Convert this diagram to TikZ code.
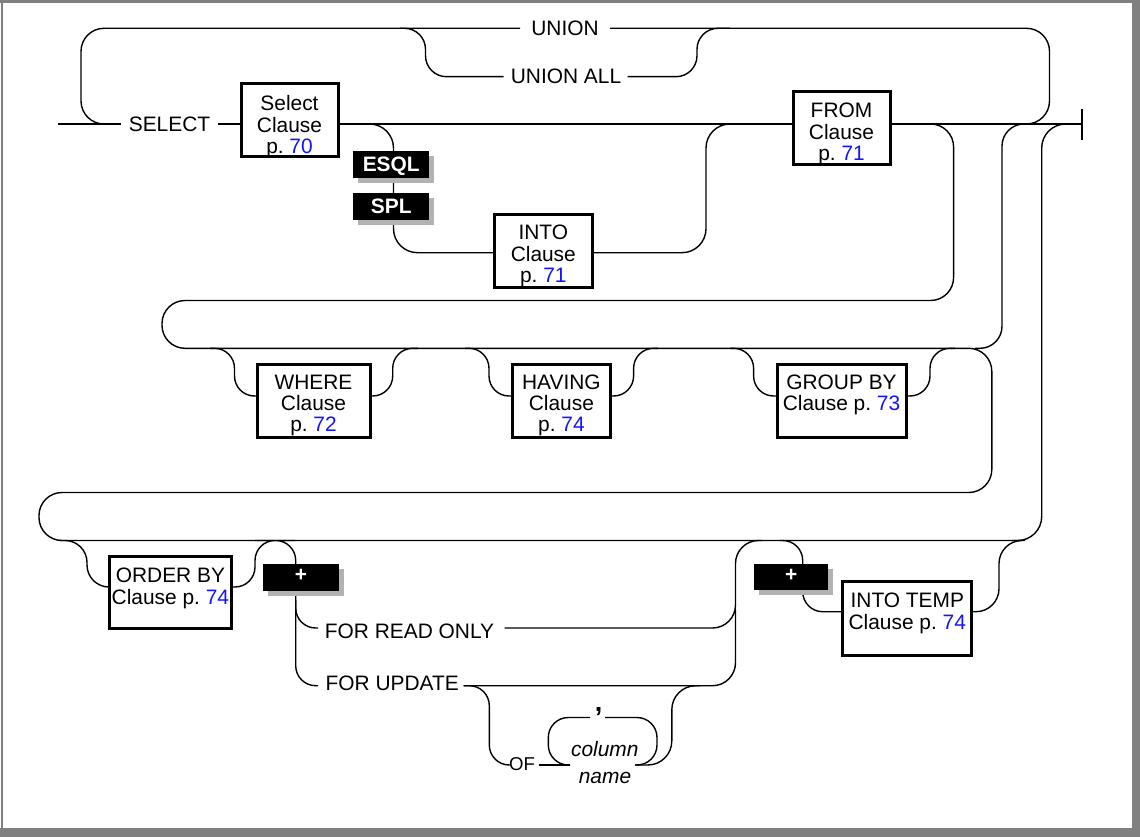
\documentclass[tikz,border=0pt]{standalone}
\usepackage{fontspec}
\setmainfont{Liberation Sans}
\usetikzlibrary{shadows}
\definecolor{framegray}{RGB}{128,128,128}
\definecolor{shadowgray}{RGB}{178,178,178}
\definecolor{pgblue}{RGB}{20,20,255}
\newcommand\pg[1]{\textcolor{pgblue}{#1}}
\newcommand\mylines[1]{\begin{tabular}[t]{@{}c@{}}#1\end{tabular}}
\newcommand\msz{\fontsize{20.9}{21.3}\selectfont}
\begin{document}
\begin{tikzpicture}[x=1pt,y=-1pt,
  conn/.style={line width=1.4pt, rounded corners=#1, line join=round},
  conn/.default=23pt,
  clausebox/.style n args={3}{draw, line width=3pt, fill=white, inner sep=0pt, outer sep=0pt,
     text height=#1, text depth=#2, minimum width=#3, anchor=base, font=\msz},
  kw/.style={inner sep=0pt, font=\msz, anchor=base},
  tagbox/.style={fill=black, text=white, font=\msz\bfseries, inner sep=0pt,
     text height=15pt, text depth=0pt, minimum height=26.7pt,
     drop shadow={shadow xshift=5pt, shadow yshift=-5pt, fill=shadowgray, opacity=1}},
]
\useasboundingbox (0,0) rectangle (1140,837);
% frame
\fill[framegray] (0,0) rectangle (1140,2.7);
\fill[framegray] (1,0) rectangle (3.3,837);
\fill[framegray] (1131.7,0) rectangle (1140,837);
\fill[framegray] (0,828.3) rectangle (1140,837);

% ---------- connectors ----------
% main line
\draw[conn] (57.5,124) -- (121,124);
\draw[conn] (218,124) -- (241,124);
\draw[conn] (338,124) -- (793,124);
\draw[conn] (890,124) -- (1082,124);
\draw[line width=1.6pt] (1082,109) -- (1082,140);
% UNION loop
\draw[conn] (115,124) -- (81,124) -- (81,28.3) -- (520,28.3);
\draw[conn] (610,28.3) -- (1049.5,28.3) -- (1049.5,124) -- (1020,124);
\draw[conn=21pt] (400,28.3) -- (425.5,28.3) -- (425.5,76.7) -- (503.6,76.7);
\draw[conn=21pt] (627.5,76.7) -- (697,76.7) -- (697,28.3) -- (730,28.3);
% ESQL / SPL INTO branch
\draw[conn=24pt] (360,124) -- (393.5,124) -- (393.5,252.7) -- (494.5,252.7);
\draw[conn=24pt] (592,252.7) -- (706,252.7) -- (706,124) -- (740,124);
% continuation to rows 2 and 3
\draw[conn] (920,124) -- (953.6,124) -- (953.6,300.5) -- (162,300.5) -- (162,348.3)
   -- (991.8,348.3) -- (991.8,492.5) -- (39,492.5) -- (39,540.5) -- (1020,540.5);
\draw[conn=22pt] (1030,124) -- (1002,124) -- (1002,348.3) -- (975,348.3);
\draw[conn=24pt] (1070,124) -- (1041.7,124) -- (1041.7,540.5) -- (1012,540.5);
% row 2 options
\draw[conn=20pt] (210,348.3) -- (234.5,348.3) -- (234.5,396) -- (257,396);
\draw[conn=20pt] (370,396) -- (392.7,396) -- (392.7,348.3) -- (418,348.3);
\draw[conn=20pt] (465,348.3) -- (489,348.3) -- (489,396) -- (512.7,396);
\draw[conn=20pt] (610,396) -- (633.6,396) -- (633.6,348.3) -- (658,348.3);
\draw[conn=20pt] (730,348.3) -- (753.6,348.3) -- (753.6,396) -- (777,396);
\draw[conn=20pt] (906,396) -- (930,396) -- (930,348.3) -- (955,348.3);
% row 3
\draw[conn=22pt] (60,540.5) -- (87,540.5) -- (87,587) -- (109,587);
\draw[conn=20pt] (231.7,587) -- (255,587) -- (255,540.5) -- (275,540.5) -- (295.7,540.5)
   -- (295.7,685.7) -- (318,685.7);
\draw[conn=20pt] (295.7,600) -- (295.7,628) -- (318,628);
\draw[conn=23pt] (504.7,628) -- (735.5,628) -- (735.5,540.5) -- (762,540.5);
\draw[conn=23pt] (463.6,685.7) -- (735.5,685.7) -- (735.5,610);
\draw[conn=20pt] (463.6,685.7) -- (489.3,685.7) -- (489.3,765) -- (507,765);
\draw[conn] (539,765) -- (570,765);
\draw[conn=20pt] (590,717.5) -- (548.3,717.5) -- (548.3,765) -- (570,765);
\draw[conn=20pt] (605,717.5) -- (657,717.5) -- (657,765) -- (635,765);
\draw[conn=24pt] (635,765) -- (671.8,765) -- (671.8,685.7) -- (700,685.7);
\draw[conn=20pt] (780,540.5) -- (802.7,540.5) -- (802.7,611.7) -- (842.7,611.7);
\draw[conn=23pt] (971.8,611.7) -- (999,611.7) -- (999,540.5) -- (1025,540.5);

% ---------- boxes ----------
\node[clausebox={26.5pt}{46.5pt}{97pt}] (sel) at (289.5,110.5) {\mylines{Select\\Clause\\p.~\pg{70}}};
\node[clausebox={25pt}{47pt}{97.5pt}] (into) at (543.3,240) {\mylines{INTO\\Clause\\p.~\pg{71}}};
\node[clausebox={25.5pt}{47.5pt}{97pt}] (from) at (841.5,117.5) {\mylines{FROM\\Clause\\p.~\pg{71}}};
\node[clausebox={25pt}{48pt}{113pt}] (where) at (313.5,389) {\mylines{WHERE\\Clause\\p.~\pg{72}}};
\node[clausebox={25pt}{48pt}{97.3pt}] (having) at (561.4,389) {\mylines{HAVING\\Clause\\p.~\pg{74}}};
\node[clausebox={25pt}{48pt}{129pt}] (group) at (841.5,389) {\mylines{GROUP BY\\Clause p.~\pg{73}}};
\node[clausebox={26.5pt}{45.5pt}{122.7pt}] (order) at (170.4,582.5) {\mylines{ORDER BY\\Clause p.~\pg{74}}};
\node[clausebox={25.8pt}{47.5pt}{129.1pt}] (intotemp) at (907.3,607.5) {\mylines{INTO TEMP\\Clause p.~\pg{74}}};

% ---------- tags ----------
\node[tagbox, minimum width=75.5pt] (esql) at (391.2,164.3) {ESQL};
\node[tagbox, minimum width=75.5pt] (spl) at (391.2,206.3) {SPL};
\node[tagbox, minimum width=76pt] (plusa) at (301,577.3) {\raisebox{3pt}{+}};
\node[tagbox, minimum width=73.6pt] (plusb) at (791.2,577) {\raisebox{3pt}{+}};

% ---------- keywords ----------
\node[kw] (kwsel) at (169.5,131.5) {SELECT};
\node[kw] (kwunion) at (565,35.3) {UNION};
\node[kw] (kwunall) at (566,83.3) {UNION ALL};
\node[kw, anchor=base west] (kwfro) at (324.7,638.3) {FOR READ ONLY};
\node[kw, anchor=base west] (kwfu) at (325.5,690) {FOR UPDATE};
\node[kw, anchor=base west, font=\fontsize{18.6}{19}\selectfont] (kwof) at (509,770) {OF};
\node[kw, font=\fontsize{27}{27}\selectfont\bfseries] (comma) at (598.5,711) {,};
\node[kw, font=\msz\itshape] (colnamea) at (604.8,756.7) {column};
\node[kw, font=\msz\itshape] (colnameb) at (605,783) {name};
\end{tikzpicture}
\end{document}
